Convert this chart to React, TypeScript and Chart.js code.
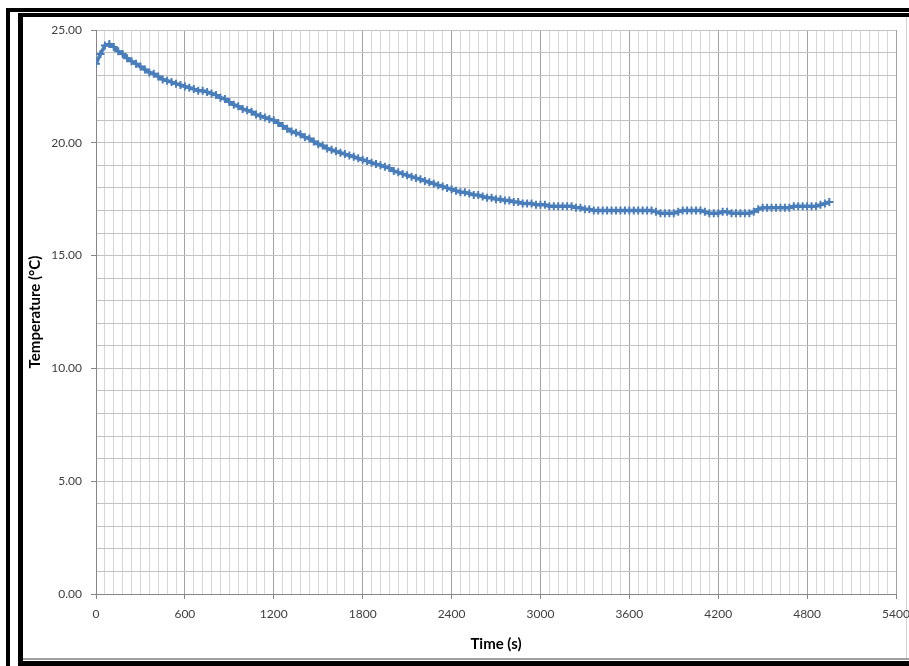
import React, { useEffect, useRef } from "react";
import { Chart, registerables } from "chart.js";

Chart.register(...registerables);

// Sample times (s)
const TIMES_S = [
  0, 30, 60, 90, 120, 150, 180, 210, 240, 270,
  300, 330, 360, 390, 420, 450, 480, 510, 540, 570,
  600, 630, 660, 690, 720, 750, 780, 810, 840, 870,
  900, 930, 960, 990, 1020, 1050, 1080, 1110, 1140, 1170,
  1200, 1230, 1260, 1290, 1320, 1350, 1380, 1410, 1440, 1470,
  1500, 1530, 1560, 1590, 1620, 1650, 1680, 1710, 1740, 1770,
  1800, 1830, 1860, 1890, 1920, 1950, 1980, 2010, 2040, 2070,
  2100, 2130, 2160, 2190, 2220, 2250, 2280, 2310, 2340, 2370,
  2400, 2430, 2460, 2490, 2520, 2550, 2580, 2610, 2640, 2670,
  2700, 2730, 2760, 2790, 2820, 2850, 2880, 2910, 2940, 2970,
  3000, 3030, 3060, 3090, 3120, 3150, 3180, 3210, 3240, 3270,
  3300, 3330, 3360, 3390, 3420, 3450, 3480, 3510, 3540, 3570,
  3600, 3630, 3660, 3690, 3720, 3750, 3780, 3810, 3840, 3870,
  3900, 3930, 3960, 3990, 4020, 4050, 4080, 4110, 4140, 4170,
  4200, 4230, 4260, 4290, 4320, 4350, 4380, 4410, 4440, 4470,
  4500, 4530, 4560, 4590, 4620, 4650, 4680, 4710, 4740, 4770,
  4800, 4830, 4860, 4890, 4920, 4950,
];

// Temperature (°C)
const TEMPS_C = [
  23.5, 23.94, 24.31, 24.38, 24.25, 24.06, 23.94, 23.75, 23.62, 23.5,
  23.38, 23.25, 23.12, 23.06, 22.94, 22.81, 22.75, 22.69, 22.62, 22.56,
  22.5, 22.44, 22.38, 22.31, 22.31, 22.25, 22.19, 22.12, 22.0, 21.94,
  21.81, 21.69, 21.62, 21.5, 21.44, 21.38, 21.25, 21.19, 21.12, 21.06,
  21.0, 20.88, 20.75, 20.62, 20.5, 20.44, 20.38, 20.25, 20.19, 20.06,
  19.94, 19.88, 19.75, 19.69, 19.62, 19.56, 19.5, 19.44, 19.38, 19.31,
  19.25, 19.19, 19.12, 19.06, 19.0, 18.94, 18.88, 18.75, 18.69, 18.62,
  18.56, 18.5, 18.44, 18.38, 18.31, 18.25, 18.19, 18.12, 18.06, 18.0,
  17.94, 17.88, 17.81, 17.81, 17.75, 17.69, 17.69, 17.62, 17.56, 17.56,
  17.5, 17.5, 17.44, 17.44, 17.38, 17.38, 17.31, 17.31, 17.31, 17.25,
  17.25, 17.25, 17.19, 17.19, 17.19, 17.19, 17.19, 17.19, 17.12, 17.12,
  17.06, 17.06, 17.0, 17.0, 17.0, 17.0, 17.0, 17.0, 17.0, 17.0,
  17.0, 17.0, 17.0, 17.0, 17.0, 17.0, 16.94, 16.88, 16.88, 16.88,
  16.88, 16.94, 17.0, 17.0, 17.0, 17.0, 17.0, 16.94, 16.88, 16.88,
  16.88, 16.94, 16.94, 16.88, 16.88, 16.88, 16.88, 16.88, 16.94, 17.06,
  17.12, 17.12, 17.12, 17.12, 17.12, 17.12, 17.12, 17.19, 17.19, 17.19,
  17.19, 17.19, 17.19, 17.25, 17.31, 17.38,
];

const X_MIN = 0;
const X_MAX = 5400;
const X_MINOR_STEP = 60;
const X_MAJOR_STEP = 600;
const Y_MIN = 0;
const Y_MAX = 25;
const Y_MINOR_STEP = 1;
const Y_MAJOR_STEP = 5;

const X_TITLE = "Time (s)";
const Y_TITLE = "Temperature (°C)";

const FONT = "Lato, 'Open Sans', 'DejaVu Sans', sans-serif";

export default function App() {
  const canvasRef = useRef<HTMLCanvasElement | null>(null);

  useEffect(() => {
    const canvas = canvasRef.current;
    if (!canvas) return;
    const points = TIMES_S.map((t, i) => ({ x: t, y: TEMPS_C[i] }));
    const chart = new Chart(canvas, {
      type: "line",
      data: {
        datasets: [
          {
            data: points,
            borderColor: "#4a7ebb",
            backgroundColor: "#4a7ebb",
            borderWidth: 3.5,
            pointStyle: "cross",
            pointRadius: 4,
            pointBorderWidth: 2,
            pointBorderColor: "#4a7ebb",
            tension: 0,
            fill: false,
          },
        ],
      },
      options: {
        animation: false,
        responsive: false,
        maintainAspectRatio: false,
        layout: { padding: { top: 13, right: 13, left: 0, bottom: 0 } },
        plugins: {
          legend: { display: false },
          tooltip: { enabled: false },
        },
        scales: {
          x: {
            type: "linear",
            min: X_MIN,
            max: X_MAX,
            afterFit: (scale: any) => {
              scale.height = 64;
              scale.paddingLeft = 0;
              scale.paddingRight = 0;
            },
            ticks: {
              stepSize: X_MINOR_STEP,
              autoSkip: false,
              maxRotation: 0,
              minRotation: 0,
              padding: 8,
              color: "#404040",
              font: { family: FONT, size: 12 },
              callback: (v: any) => (Number(v) % X_MAJOR_STEP === 0 ? String(v) : ""),
            },
            grid: {
              color: (ctx: any) =>
                ctx.tick && ctx.tick.value % X_MAJOR_STEP === 0 ? "#a3a3a3" : "#d6d6d6",
              lineWidth: 1,
              drawTicks: true,
              tickLength: 5,
              tickColor: (ctx: any) =>
                ctx.tick && ctx.tick.value % X_MAJOR_STEP === 0 ? "#868686" : "rgba(0,0,0,0)",
            },
            border: { display: true, color: "#868686", width: 1 },
            title: {
              display: true,
              text: X_TITLE,
              color: "#000000",
              font: { family: FONT, size: 15, weight: "bold" },
              padding: { top: 0, bottom: 5 },
            },
          },
          y: {
            type: "linear",
            min: Y_MIN,
            max: Y_MAX,
            afterFit: (scale: any) => {
              scale.width = 73;
              scale.paddingTop = 0;
              scale.paddingBottom = 0;
            },
            ticks: {
              stepSize: Y_MINOR_STEP,
              autoSkip: false,
              padding: 9,
              color: "#404040",
              font: { family: FONT, size: 12 },
              callback: (v: any) =>
                Number(v) % Y_MAJOR_STEP === 0 ? Number(v).toFixed(2) : "",
            },
            grid: {
              color: "#c2c2c2",
              lineWidth: 1,
              drawTicks: true,
              tickLength: 5,
              tickColor: (ctx: any) =>
                ctx.tick && ctx.tick.value % Y_MAJOR_STEP === 0 ? "#868686" : "rgba(0,0,0,0)",
            },
            border: { display: true, color: "#868686", width: 1 },
            title: {
              display: true,
              text: Y_TITLE,
              color: "#000000",
              font: { family: FONT, size: 15, weight: "bold" },
              padding: { top: 3, bottom: 0 },
            },
          },
        },
      },
    });
    return () => chart.destroy();
  }, []);

  const abs = (l: number, t: number, w: number, h: number, bg: string): React.CSSProperties => ({
    position: "absolute",
    left: l,
    top: t,
    width: w,
    height: h,
    background: bg,
  });

  return (
    <div
      style={{
        position: "fixed",
        left: 0,
        top: 0,
        width: 909,
        height: 666,
        background: "#ffffff",
        overflow: "hidden",
      }}
    >
      <div style={abs(6, 8, 903, 4, "#000")} />
      <div style={abs(18, 13, 891, 4, "#000")} />
      <div style={abs(6, 8, 4, 658, "#000")} />
      <div style={abs(18, 13, 5, 648, "#000")} />
      <div style={abs(23, 658, 886, 2, "#a0a0a0")} />
      <div style={abs(18, 661, 891, 5, "#000")} />
      <div style={abs(906, 17, 1, 641, "#d0d0d0")} />
      <canvas
        ref={canvasRef}
        width={886}
        height={641}
        style={{ position: "absolute", left: 23, top: 17, width: 886, height: 641 }}
      />
    </div>
  );
}
